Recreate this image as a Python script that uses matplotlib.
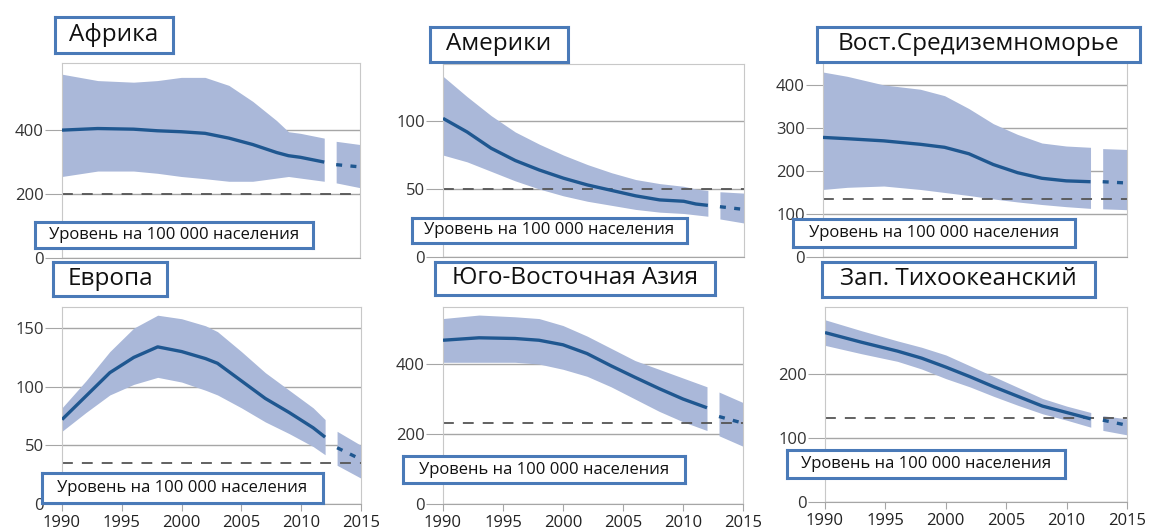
import numpy as np
import matplotlib.pyplot as plt

plt.rcParams['font.family'] = ['Open Sans', 'DejaVu Sans']

# регионы и данные (оценки по картинке)
titles = ["Африка", "Америки", "Вост.Средиземноморье",
          "Европа", "Юго-Восточная Азия", "Зап. Тихоокеанский"]
note = "Уровень на 100 000 населения"

years_af = [1990, 1993, 1996, 1998, 2000, 2002, 2004, 2006, 2008, 2009, 2010, 2012]
mid_af = [400, 405, 403, 398, 395, 390, 375, 355, 330, 320, 315, 300]
hi_af = [575, 555, 550, 555, 565, 565, 540, 490, 430, 395, 390, 375]
lo_af = [255, 272, 272, 265, 255, 248, 240, 240, 250, 255, 250, 240]

years_am = [1990, 1992, 1994, 1996, 1998, 2000, 2002, 2004, 2006, 2008, 2010, 2011, 2012]
mid_am = [102, 92, 80, 71, 64, 58, 53, 49, 45, 42, 41, 39, 38]
hi_am = [133, 118, 104, 92, 83, 75, 68, 62, 57, 54, 52, 50, 49]
lo_am = [75, 70, 63, 56, 50, 45, 41, 38, 35, 33, 32, 31, 30]

years_em = [1990, 1992, 1995, 1998, 2000, 2002, 2004, 2006, 2008, 2010, 2012]
mid_em = [278, 275, 270, 262, 255, 240, 215, 196, 183, 177, 175]
hi_em = [430, 420, 400, 390, 375, 345, 310, 285, 265, 258, 255]
lo_em = [157, 162, 165, 157, 150, 143, 135, 128, 122, 117, 113]

years_eu = [1990, 1992, 1994, 1996, 1998, 2000, 2002, 2003, 2005, 2007, 2009, 2011, 2012]
mid_eu = [72, 92, 112, 125, 134, 130, 124, 120, 105, 90, 78, 65, 57]
hi_eu = [82, 105, 130, 150, 161, 158, 152, 147, 130, 112, 97, 82, 72]
lo_eu = [62, 78, 93, 102, 108, 104, 97, 93, 82, 70, 60, 49, 42]

years_sea = [1990, 1993, 1996, 1998, 2000, 2002, 2004, 2006, 2008, 2010, 2012]
mid_sea = [468, 475, 473, 468, 455, 430, 395, 362, 330, 300, 275]
hi_sea = [530, 540, 535, 530, 510, 480, 445, 410, 385, 360, 335]
lo_sea = [405, 405, 405, 400, 385, 365, 335, 300, 265, 235, 210]

years_wp = [1990, 1993, 1996, 1998, 2000, 2002, 2004, 2006, 2008, 2010, 2012]
mid_wp = [265, 250, 236, 225, 211, 196, 180, 165, 150, 140, 130]
hi_wp = [285, 268, 252, 242, 230, 213, 196, 179, 162, 150, 140]
lo_wp = [245, 232, 220, 208, 193, 180, 165, 151, 138, 128, 117]

# прогноз 2013-2015
proj_years = [2013, 2015]
proj_mid = [[292, 285], [37, 35], [175, 172], [48, 38], [250, 231], [128, 120]]
proj_hi = [[365, 355], [48, 47], [252, 250], [62, 50], [320, 290], [135, 130]]
proj_lo = [[235, 220], [28, 25], [112, 110], [33, 22], [195, 165], [112, 105]]

targets = [200, 50, 135, 35, 232, 132]
yticks = [[0, 200, 400], [0, 50, 100], [0, 100, 200, 300, 400],
          [0, 50, 100, 150], [0, 200, 400], [0, 100, 200]]
ytops = [610, 142, 451, 168, 563, 305]
xticks = [1990, 1995, 2000, 2005, 2010, 2015]

series = [(years_af, mid_af, hi_af, lo_af), (years_am, mid_am, hi_am, lo_am),
          (years_em, mid_em, hi_em, lo_em), (years_eu, mid_eu, hi_eu, lo_eu),
          (years_sea, mid_sea, hi_sea, lo_sea), (years_wp, mid_wp, hi_wp, lo_wp)]

W, H = 1149, 531
# пиксельные рамки осей: левый, правый, верх, низ
boxes = [(62, 360, 63, 258), (443, 744, 64, 257), (823, 1127, 63, 257),
         (62, 361, 307, 504), (443, 743, 307, 504), (825, 1127, 307, 502)]
# подписи-заголовки: x0, x1, y0, y1
title_boxes = [(55, 173, 17, 53), (430, 568, 27, 62), (817, 1140, 27, 62),
               (53, 167, 262, 296), (435, 715, 262, 295), (822, 1095, 262, 297)]
note_boxes = [(35, 313, 222, 248), (412, 687, 218, 243), (793, 1075, 219, 247),
              (42, 323, 473, 503), (403, 685, 456, 483), (787, 1065, 450, 478)]

band = '#aab8d9'
line = '#1f5790'
frame = '#c8c8c8'
grid = '#a6a6a6'
boxblue = '#4a7ab8'

fig = plt.figure(figsize=(W / 100, H / 100), dpi=100)

for i in range(6):
    l, r, t, b = boxes[i]
    ax = fig.add_axes([l / W, 1 - b / H, (r - l) / W, (b - t) / H])
    yrs, mid, hi, lo = series[i]
    ax.fill_between(yrs, lo, hi, color=band, lw=0, zorder=1)
    ax.plot(yrs, mid, color=line, lw=2.4, zorder=3, solid_capstyle='butt')
    ax.fill_between(proj_years, proj_lo[i], proj_hi[i], color=band, lw=0, zorder=1)
    ax.plot(proj_years, proj_mid[i], color=line, lw=2.4, dashes=(1.8, 2.5), zorder=3)
    ax.plot([1990, 2015], [targets[i], targets[i]], color='#555555', lw=1.3,
            dashes=(6, 5), zorder=2)
    ax.set_xlim(1990, 2015)
    ax.set_ylim(0, ytops[i])
    ax.set_yticks(yticks[i])
    ax.yaxis.grid(True, color=grid, lw=1)
    ax.set_axisbelow(True)
    for s in ['top', 'right', 'left']:
        ax.spines[s].set_color(frame)
    ax.spines['bottom'].set_color(grid)
    ax.tick_params(axis='y', length=12, color=grid, labelsize=12,
                   labelcolor='#333333', pad=1)
    ax.set_xticks(xticks)
    if i >= 3:
        ax.tick_params(axis='x', length=5, color=grid, labelsize=12,
                       labelcolor='#222222', pad=3)
    else:
        ax.tick_params(axis='x', length=0, labelbottom=False)
    ax.set_facecolor('white')

def box_text(bx, txt, size):
    x0, x1, y0, y1 = bx
    ov = fig.add_axes([x0 / W, 1 - y1 / H, (x1 - x0) / W, (y1 - y0) / H])
    ov.set_xticks([])
    ov.set_yticks([])
    ov.set_facecolor('white')
    for s in ov.spines.values():
        s.set_color(boxblue)
        s.set_linewidth(2.2)
    ov.text(0.5, 0.5, txt, ha='center', va='center', fontsize=size,
            color='#111111', transform=ov.transAxes)

for i in range(6):
    box_text(note_boxes[i], note, 12)
for i in range(6):
    box_text(title_boxes[i], titles[i], 17.5)

fig.savefig('out.png', dpi=100)
